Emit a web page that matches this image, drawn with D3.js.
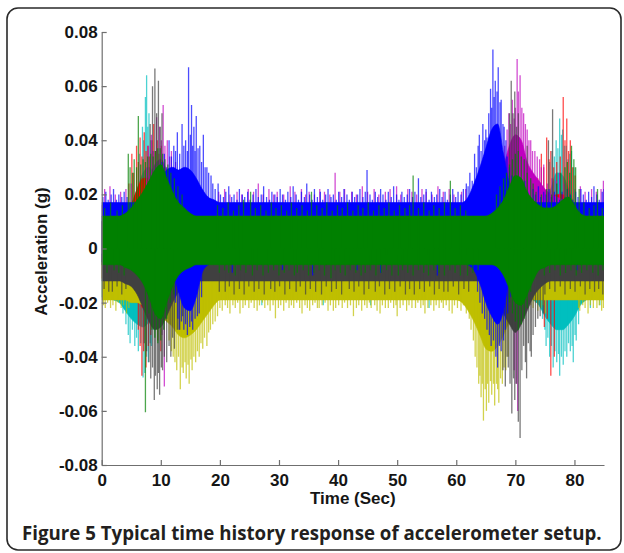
<!DOCTYPE html>
<html>
<head>
<meta charset="utf-8">
<script src="https://cdn.jsdelivr.net/npm/d3@7"></script>
<style>
  html, body { margin: 0; padding: 0; background: #fff; }
  svg { display: block; }
</style>
</head>
<body>
<svg id="chart" width="624" height="553"></svg>
<script>
// Sampling instants (s) for the dense-core envelopes
const time = [0,1,2,3,4,5,6,7,8,9,10,11,12,13,14,15,16,17,18,19,20,21,22,23,24,25,26,27,28,29,
  30,31,32,33,34,35,36,37,38,39,40,41,42,43,44,45,46,47,48,49,50,51,52,53,54,55,56,57,58,59,
  60,61,62,63,64,65,66,67,68,69,70,71,72,73,74,75,76,77,78,79,80,81,82,83,84,85];

// Upper / lower envelopes (g) of the dense core of each channel
const greenHi = [.012,.012,.012,.012,.013,.015,.018,.021,.025,.029,
  .031,.026,.021,.017,.015,.013,.012,.012,.012,.012,
  .012,.012,.012,.012,.012,.012,.012,.012,.012,.012,
  .012,.012,.012,.012,.012,.012,.012,.012,.012,.012,
  .012,.012,.012,.012,.012,.012,.012,.012,.012,.012,
  .012,.012,.012,.012,.012,.012,.012,.012,.012,.012,
  .012,.012,.012,.012,.012,.012,.013,.015,.018,.023,
  .027,.026,.021,.018,.016,.015,.015,.016,.018,.019,
  .016,.013,.012,.012,.012,.012];
const greenLo = [-.006,-.006,-.006,-.006,-.007,-.008,-.010,-.013,-.018,-.024,
  -.026,-.020,-.014,-.010,-.008,-.007,-.006,-.006,-.006,-.006,
  -.006,-.006,-.006,-.006,-.006,-.006,-.006,-.006,-.006,-.006,
  -.006,-.006,-.006,-.006,-.006,-.006,-.006,-.006,-.006,-.006,
  -.006,-.006,-.006,-.006,-.006,-.006,-.006,-.006,-.006,-.006,
  -.006,-.006,-.006,-.006,-.006,-.006,-.006,-.006,-.006,-.006,
  -.006,-.006,-.006,-.006,-.006,-.006,-.006,-.007,-.010,-.015,
  -.020,-.021,-.017,-.012,-.008,-.007,-.006,-.006,-.006,-.006,
  -.006,-.006,-.006,-.006,-.006,-.006];

const blueHi = [.017,.017,.017,.017,.017,.017,.017,.018,.019,.022,
  .026,.029,.030,.029,.030,.029,.026,.022,.019,.018,
  .017,.017,.017,.017,.017,.017,.017,.017,.017,.017,
  .017,.017,.017,.017,.017,.017,.017,.017,.017,.017,
  .017,.017,.017,.017,.017,.017,.017,.017,.017,.017,
  .017,.017,.017,.017,.017,.017,.017,.017,.017,.017,
  .017,.017,.019,.024,.030,.037,.044,.046,.035,.024,
  .019,.017,.017,.017,.017,.017,.017,.017,.017,.017,
  .017,.017,.017,.017,.017,.017];
const blueLo = [-.005,-.005,-.005,-.005,-.005,-.005,-.005,-.005,-.005,-.005,
  -.005,-.005,-.008,-.016,-.022,-.023,-.018,-.009,-.006,-.005,
  -.005,-.005,-.005,-.005,-.005,-.005,-.005,-.005,-.005,-.005,
  -.005,-.005,-.005,-.005,-.005,-.005,-.005,-.005,-.005,-.005,
  -.005,-.005,-.005,-.005,-.005,-.005,-.005,-.005,-.005,-.005,
  -.005,-.005,-.005,-.005,-.005,-.005,-.005,-.005,-.005,-.005,
  -.005,-.005,-.006,-.008,-.013,-.020,-.025,-.028,-.023,-.011,
  -.006,-.005,-.005,-.005,-.005,-.005,-.005,-.005,-.005,-.005,
  -.005,-.005,-.005,-.005,-.005,-.005];

const grayHi = [-.002,-.002,-.002,-.002,-.002,-.002,-.002,-.002,-.002,-.002,
  -.002,-.002,-.002,-.002,-.002,-.002,-.002,-.002,-.002,-.002,
  -.002,-.002,-.002,-.002,-.002,-.002,-.002,-.002,-.002,-.002,
  -.002,-.002,-.002,-.002,-.002,-.002,-.002,-.002,-.002,-.002,
  -.002,-.002,-.002,-.002,-.002,-.002,-.002,-.002,-.002,-.002,
  -.002,-.002,-.002,-.002,-.002,-.002,-.002,-.002,-.002,-.002,
  -.002,-.002,-.002,-.002,-.002,-.002,-.002,-.002,-.002,-.002,
  -.002,-.002,-.002,-.002,-.002,-.002,-.002,-.002,-.002,-.002,
  -.002,-.002,-.002,-.002,-.002,-.002];
const grayLo = [-.012,-.012,-.012,-.012,-.013,-.014,-.017,-.022,-.027,-.030,
  -.029,-.025,-.020,-.016,-.013,-.012,-.012,-.012,-.012,-.012,
  -.012,-.012,-.012,-.012,-.012,-.012,-.012,-.012,-.012,-.012,
  -.012,-.012,-.012,-.012,-.012,-.012,-.012,-.012,-.012,-.012,
  -.012,-.012,-.012,-.012,-.012,-.012,-.012,-.012,-.012,-.012,
  -.012,-.012,-.012,-.012,-.012,-.012,-.012,-.012,-.012,-.012,
  -.012,-.012,-.012,-.012,-.012,-.013,-.015,-.019,-.024,-.028,
  -.031,-.028,-.023,-.018,-.015,-.013,-.012,-.012,-.012,-.012,
  -.012,-.012,-.012,-.012,-.012,-.012];

const yellowHi = [-.004,-.004,-.004,-.004,-.004,-.004,-.004,-.004,-.004,-.004,
  -.004,-.004,-.004,-.004,-.004,-.004,-.004,-.004,-.004,-.004,
  -.004,-.004,-.004,-.004,-.004,-.004,-.004,-.004,-.004,-.004,
  -.004,-.004,-.004,-.004,-.004,-.004,-.004,-.004,-.004,-.004,
  -.004,-.004,-.004,-.004,-.004,-.004,-.004,-.004,-.004,-.004,
  -.004,-.004,-.004,-.004,-.004,-.004,-.004,-.004,-.004,-.004,
  -.004,-.004,-.004,-.004,-.004,-.004,-.004,-.004,-.004,-.004,
  -.004,-.004,-.004,-.004,-.004,-.004,-.004,-.004,-.004,-.004,
  -.004,-.004,-.004,-.004,-.004,-.004];
const yellowLo = [-.019,-.019,-.019,-.019,-.019,-.020,-.020,-.021,-.022,-.024,
  -.025,-.027,-.029,-.032,-.033,-.032,-.030,-.027,-.024,-.021,
  -.019,-.019,-.019,-.019,-.019,-.019,-.019,-.019,-.019,-.019,
  -.019,-.019,-.019,-.019,-.019,-.019,-.019,-.019,-.019,-.019,
  -.019,-.019,-.019,-.019,-.019,-.019,-.019,-.019,-.019,-.019,
  -.019,-.019,-.019,-.019,-.019,-.019,-.019,-.019,-.019,-.019,
  -.019,-.020,-.023,-.027,-.032,-.037,-.038,-.036,-.032,-.027,
  -.024,-.021,-.019,-.019,-.019,-.019,-.019,-.019,-.019,-.019,
  -.019,-.019,-.019,-.019,-.019,-.019];

const magentaHi = [.016,.016,.016,.016,.016,.016,.017,.020,.026,.031,
  .033,.029,.025,.021,.018,.016,.016,.016,.016,.016,
  .016,.016,.016,.016,.016,.016,.016,.016,.016,.016,
  .016,.016,.016,.016,.016,.016,.016,.016,.016,.016,
  .016,.016,.016,.016,.016,.016,.016,.016,.016,.016,
  .016,.016,.016,.016,.016,.016,.016,.016,.016,.016,
  .016,.016,.016,.016,.016,.016,.017,.021,.030,.038,
  .042,.040,.032,.028,.025,.022,.020,.019,.018,.017,
  .016,.016,.016,.016,.016,.016];
const magentaLo = [-.006,-.006,-.006,-.006,-.006,-.006,-.006,-.008,-.010,-.014,
  -.020,-.016,-.010,-.006,-.006,-.006,-.006,-.006,-.006,-.006,
  -.006,-.006,-.006,-.006,-.006,-.006,-.006,-.006,-.006,-.006,
  -.006,-.006,-.006,-.006,-.006,-.006,-.006,-.006,-.006,-.006,
  -.006,-.006,-.006,-.006,-.006,-.006,-.006,-.006,-.006,-.006,
  -.006,-.006,-.006,-.006,-.006,-.006,-.006,-.006,-.006,-.006,
  -.006,-.006,-.006,-.006,-.006,-.006,-.006,-.008,-.012,-.018,
  -.024,-.020,-.012,-.008,-.006,-.006,-.006,-.006,-.006,-.006,
  -.006,-.006,-.006,-.006,-.006,-.006];

const redHi = [.010,.010,.010,.010,.012,.016,.022,.026,.026,.024,
  .018,.013,.010,.010,.010,.010,.010,.010,.010,.010,
  .010,.010,.010,.010,.010,.010,.010,.010,.010,.010,
  .010,.010,.010,.010,.010,.010,.010,.010,.010,.010,
  .010,.010,.010,.010,.010,.010,.010,.010,.010,.010,
  .010,.010,.010,.010,.010,.010,.010,.010,.010,.010,
  .010,.010,.010,.010,.010,.010,.010,.010,.010,.010,
  .010,.010,.010,.010,.011,.014,.018,.020,.020,.016,
  .012,.010,.010,.010,.010,.010];
const redLo = [-.011,-.011,-.011,-.011,-.011,-.012,-.016,-.022,-.022,-.022,
  -.020,-.015,-.011,-.011,-.011,-.011,-.011,-.011,-.011,-.011,
  -.011,-.011,-.011,-.011,-.011,-.011,-.011,-.011,-.011,-.011,
  -.011,-.011,-.011,-.011,-.011,-.011,-.011,-.011,-.011,-.011,
  -.011,-.011,-.011,-.011,-.011,-.011,-.011,-.011,-.011,-.011,
  -.011,-.011,-.011,-.011,-.011,-.011,-.011,-.011,-.011,-.011,
  -.011,-.011,-.011,-.011,-.011,-.011,-.011,-.011,-.011,-.011,
  -.011,-.011,-.011,-.011,-.012,-.013,-.014,-.013,-.012,-.011,
  -.011,-.011,-.011,-.011,-.011,-.011];

const cyanHi = [.010,.010,.010,.010,.011,.016,.022,.028,.030,.026,
  .018,.012,.010,.010,.010,.010,.010,.010,.010,.010,
  .010,.010,.010,.010,.010,.010,.010,.010,.010,.010,
  .010,.010,.010,.010,.010,.010,.010,.010,.010,.010,
  .010,.010,.010,.010,.010,.010,.010,.010,.010,.010,
  .010,.010,.010,.010,.010,.010,.010,.010,.010,.010,
  .010,.010,.010,.010,.010,.010,.010,.010,.010,.010,
  .010,.010,.010,.010,.012,.016,.022,.028,.027,.022,
  .016,.012,.010,.010,.010,.010];
const cyanLo = [-.018,-.018,-.019,-.020,-.023,-.026,-.028,-.029,-.027,-.022,
  -.019,-.018,-.018,-.018,-.018,-.018,-.018,-.018,-.018,-.018,
  -.018,-.018,-.018,-.018,-.018,-.018,-.018,-.018,-.018,-.018,
  -.018,-.018,-.018,-.018,-.018,-.018,-.018,-.018,-.018,-.018,
  -.018,-.018,-.018,-.018,-.018,-.018,-.018,-.018,-.018,-.018,
  -.018,-.018,-.018,-.018,-.018,-.018,-.018,-.018,-.018,-.018,
  -.018,-.018,-.018,-.018,-.018,-.018,-.018,-.018,-.018,-.018,
  -.018,-.018,-.018,-.019,-.021,-.025,-.028,-.030,-.030,-.028,
  -.025,-.021,-.019,-.018,-.018,-.018];

// Individual excursions [time (s), acceleration (g)] reaching beyond each core
const cyanPeaks = [[6.4,.035],[6.9,.045],[7.1,.04],[7.4,.056],[7.6,.064],[7.8,.045],[8.0,.05],[8.3,.04],[8.7,.036],
  [3.6,-.024],[4.1,-.028],[4.5,-.032],[4.8,-.035],[5.2,-.03],[5.6,-.036],[5.9,-.033],[6.2,-.038],[6.6,-.035],
  [7.0,-.0477],[7.3,-.046],[7.6,-.04],[7.9,-.042],[8.2,-.035],[8.4,-.036],[8.8,-.03],
  [75.8,.032],[76.2,.036],[76.6,.034],[76.9,.04],[77.2,.037],[77.5,.048],[77.8,.042],[78.0,.044],[78.3,.038],
  [78.6,.038],[78.9,.033],[79.2,.035],[79.5,.036],[79.9,.03],
  [74.6,-.026],[75.0,-.03],[75.2,-.036],[75.5,-.033],[75.8,-.04],[76.1,-.036],[76.4,-.044],[76.7,-.038],
  [77.0,-.042],[77.3,-.039],[77.5,-.047],[77.8,-.04],[78.1,-.043],[78.4,-.038],[78.7,-.04],[79.0,-.035],
  [79.3,-.038],[79.6,-.036],[79.8,-.042],[80.1,-.032],[80.3,-.034],[80.7,-.028],
  [27.1,-.021],[37.5,-.021],[45.5,-.021],[55.4,-.022],[82.7,-.022],[84.3,-.021]];
const redPeaks = [[4.6,.024],[5.1,.035],[5.4,.028],[5.9,.038],[6.2,.032],[6.5,.041],[6.8,.034],[7.2,.043],
  [7.5,.036],[7.8,.038],[8.1,.034],[8.5,.04],[8.8,.046],[9.1,.036],[9.4,.04],[9.7,.035],[10.1,.038],[10.5,.03],
  [6.2,-.03],[6.5,-.036],[6.8,-.047],[7.1,-.038],[7.5,-.044],[7.9,-.036],[8.3,-.032],[9.5,-.034],[10.0,-.038],
  [73.8,.026],[74.4,.035],[74.8,.03],[75.3,.041],[75.7,.033],[76.0,.036],[76.5,.03],[77.0,.032],[77.6,.034],
  [78.1,.056],[78.4,.04],[78.7,.048],[79.0,.036],[79.3,.04],[79.7,.03],[80.1,.027],
  [74.9,-.029],[75.4,-.026],[76.0,-.047],[76.6,-.04]];
const magentaPeaks = [[7.6,.03],[7.9,.038],[8.4,.042],[8.8,.036],[9.3,.0485],[9.8,.045],[10.1,.04],[10.4,.053],
  [10.7,.038],[11.1,.04],[11.5,.034],[11.8,.036],[12.2,.03],[12.5,.032],[13.0,.028],[13.5,.027],
  [10.2,-.032],[10.6,-.051],
  [67.8,.03],[68.2,.038],[68.6,.044],[68.9,.05],[69.2,.046],[69.5,.055],[69.8,.048],[70.0,.052],[70.3,.07],
  [70.5,.058],[70.8,.064],[71.1,.052],[71.4,.05],[71.7,.046],[72.0,.044],[72.3,.04],[72.6,.04],[72.9,.036],
  [73.3,.036],[73.7,.034],[74.1,.033],[74.4,.03],[74.8,.031],
  [69.8,-.045],[70.1,-.05],[70.4,-.06],
  [0.5,.022],[1.4,.023],[2.3,.02],[3.2,.021],[4.1,.022],[5.0,.024],[19.8,.021],[20.8,.022],[21.7,.02],
  [22.9,.021],[23.7,.02],[24.8,.022],[25.7,.021],[26.5,.024],[27.3,.02],[28.3,.022],[29.1,.02],[29.7,.021],
  [30.8,.02],[31.9,.023],[32.7,.021],[33.8,.022],[34.5,.02],[35.1,.021],[36.0,.02],[36.9,.022],[37.7,.021],
  [38.6,.02],[39.5,.028],[40.3,.021],[41.1,.022],[42.3,.021],[43.1,.02],[44.1,.023],[45.0,.021],[46.1,.022],
  [46.9,.02],[48.0,.021],[48.8,.022],[49.9,.023],[50.6,.02],[51.8,.022],[52.5,.021],[53.3,.02],[54.2,.022],
  [54.9,.021],[55.9,.02],[56.9,.023],[57.8,.021],[58.8,.022],[59.6,.02],[60.9,.021],[61.6,.022],[75.4,.024],
  [76.2,.026],[76.9,.025],[77.5,.028],[78.3,.024],[79.2,.025],[80.1,.022],[81.0,.023],[81.8,.021],[82.9,.022],
  [83.7,.021],[84.5,.022],[84.9,.025]];
const yellowPeaks = [[11.4,-.034],[11.8,-.038],[12.1,-.04],[12.4,-.042],[12.7,-.045],[13.0,-.04],[13.3,-.052],
  [13.6,-.044],[13.8,-.046],[14.1,-.042],[14.3,-.048],[14.6,-.043],[14.8,-.05],[15.1,-.041],[15.3,-.045],
  [15.6,-.04],[15.9,-.042],[16.2,-.038],[16.5,-.04],[16.8,-.035],[17.1,-.037],[17.4,-.033],[17.8,-.036],
  [18.1,-.031],[18.4,-.03],[18.8,-.028],[19.2,-.027],
  [62.2,-.026],[62.5,-.03],[62.9,-.034],[63.2,-.04],[63.5,-.044],[63.8,-.05],[64.0,-.047],[64.2,-.055],
  [64.4,-.05],[64.6,-.0636],[64.9,-.052],[65.1,-.06],[65.3,-.05],[65.5,-.057],[65.8,-.049],[66.0,-.054],
  [66.3,-.05],[66.5,-.058],[66.8,-.05],[67.0,-.052],[67.2,-.057],[67.5,-.048],[67.8,-.05],[68.1,-.044],
  [68.4,-.045],[68.8,-.04],
  [0.3,-.021],[0.6,-.022],[1.0,-.02],[1.5,-.022],[1.9,-.021],[2.4,-.023],[2.8,-.02],[3.3,-.022],[3.7,-.021],
  [4.2,-.024],[4.6,-.022],[19.6,-.025],[20.0,-.022],[20.4,-.023],[20.9,-.021],[21.3,-.022],[21.7,-.024],
  [22.2,-.021],[22.6,-.022],[23.0,-.02],[23.4,-.024],[23.9,-.022],[24.3,-.021],[24.9,-.022],[25.3,-.02],
  [25.8,-.022],[26.3,-.023],[26.7,-.021],[27.2,-.02],[27.6,-.022],[28.1,-.021],[28.5,-.023],[29.0,-.021],
  [29.4,-.0258],[29.9,-.022],[30.3,-.021],[30.8,-.023],[31.2,-.02],[31.7,-.022],[32.1,-.021],[32.5,-.022],
  [33.0,-.02],[33.5,-.022],[33.9,-.024],[34.4,-.021],[34.8,-.022],[35.2,-.023],[35.7,-.021],[36.1,-.02],
  [36.5,-.022],[36.8,-.022],[37.3,-.021],[37.8,-.02],[38.3,-.023],[38.7,-.021],[39.2,-.023],[39.6,-.022],
  [40.1,-.021],[40.7,-.022],[41.1,-.02],[41.6,-.022],[42.1,-.021],[42.6,-.025],[43.1,-.022],[43.5,-.021],
  [44.0,-.023],[44.5,-.021],[44.9,-.022],[45.3,-.02],[45.6,-.022],[46.2,-.021],[46.6,-.023],[47.1,-.024],
  [47.5,-.021],[48.0,-.022],[48.5,-.022],[48.9,-.02],[49.4,-.022],[49.8,-.021],[50.0,-.025],[50.5,-.022],
  [51.0,-.021],[51.6,-.023],[52.0,-.021],[52.5,-.022],[53.1,-.022],[53.5,-.02],[54.0,-.022],[54.4,-.021],
  [54.7,-.024],[55.2,-.022],[55.7,-.021],[56.2,-.023],[56.6,-.021],[57.1,-.022],[57.5,-.02],[57.8,-.022],
  [58.3,-.021],[58.8,-.023],[59.3,-.024],[59.7,-.021],[60.2,-.022],[60.8,-.023],[61.2,-.021],[61.7,-.024],
  [72.2,-.022],[72.6,-.021],[73.0,-.022],[73.4,-.02],[73.8,-.023],[74.3,-.022],[74.7,-.021],[75.1,-.024],
  [80.7,-.022],[80.9,-.023],[81.4,-.021],[81.8,-.022],[82.3,-.024],[82.7,-.021],[83.2,-.022],[83.8,-.022],
  [84.2,-.021],[84.6,-.023],[84.9,-.022]];
const grayPeaks = [[8.2,.046],[8.6,.06],[9.0,.0665],[9.3,.05],[9.6,.062],[9.9,.045],[10.2,.05],
  [7.2,-.035],[7.6,-.038],[8.0,-.042],[8.3,-.048],[8.6,-.044],[8.9,-.056],[9.1,-.047],[9.4,-.052],[9.6,-.046],
  [9.8,-.054],[10.1,-.044],[10.3,-.045],[10.6,-.04],[11.0,-.042],[11.4,-.036],[11.7,-.04],[12.0,-.033],
  [12.3,-.037],[12.8,-.03],[13.2,-.03],[13.7,-.025],[14.3,-.022],
  [69.0,.05],[69.3,.062],[69.6,.05],[69.9,.058],[70.2,.045],[70.5,.05],[72.0,.038],[75.6,.04],[76.3,.0515],
  [67.9,-.045],[68.3,-.051],[68.6,-.04],[68.8,-.044],[69.1,-.05],[69.4,-.061],[69.7,-.048],[69.9,-.056],
  [70.2,-.05],[70.5,-.064],[70.8,-.07],[71.1,-.045],[71.4,-.036],[71.7,-.042],[71.9,-.048],[72.2,-.035],
  [72.5,-.038],[72.7,-.04],[73.0,-.032],[73.4,-.029],[73.8,-.026],[74.2,-.025],[74.7,-.024],
  [0.4,-.015],[1.2,-.016],[1.8,-.016],[2.6,-.014],[3.4,-.017],[4.1,-.015],[19.9,-.016],[20.9,-.016],
  [21.6,-.014],[22.4,-.017],[23.3,-.015],[24.1,-.017],[24.9,-.014],[25.8,-.016],[26.6,-.015],[27.5,-.017],
  [28.6,-.015],[29.3,-.016],[30.1,-.014],[31.0,-.017],[31.8,-.015],[32.9,-.016],[33.6,-.014],[34.5,-.017],
  [35.3,-.015],[36.2,-.016],[37.2,-.017],[38.0,-.014],[38.9,-.016],[39.7,-.015],[40.6,-.017],[41.9,-.015],
  [42.7,-.016],[43.5,-.014],[44.4,-.017],[45.2,-.015],[46.3,-.016],[47.0,-.014],[47.9,-.017],[48.7,-.015],
  [49.6,-.016],[50.5,-.014],[51.4,-.017],[52.1,-.015],[52.9,-.017],[53.8,-.015],[54.6,-.016],[55.5,-.014],
  [56.3,-.017],[57.1,-.015],[57.9,-.016],[58.6,-.016],[59.5,-.014],[60.4,-.017],[61.3,-.015],[62.1,-.016],
  [75.0,-.017],[75.8,-.015],[76.7,-.016],[77.6,-.014],[78.4,-.017],[79.3,-.015],[80.1,-.016],[81.0,-.014],
  [81.8,-.017],[82.6,-.015],[83.4,-.016],[84.1,-.015],[84.8,-.017]];
const bluePeaks = [[9.6,.028],[10.2,.032],[10.6,.035],[11.0,.03],[11.4,.04],[11.8,.034],[12.2,.038],[12.5,.036],
  [12.8,.043],[13.2,.035],[13.6,.046],[13.9,.038],[14.2,.04],[14.5,.036],[14.7,.067],[15.0,.042],[15.2,.053],
  [15.4,.038],[15.6,.045],[15.8,.036],[16.0,.049],[16.3,.037],[16.6,.038],[16.9,.032],[17.2,.042],[17.5,.03],
  [17.8,.03],[18.1,.028],[18.5,.027],[18.8,.024],
  [12.5,-.02],[12.9,-.026],[13.1,-.03],[13.5,-.027],[13.9,-.03],[14.2,-.028],[14.5,-.032],[14.9,-.029],
  [15.2,-.027],[15.4,-.03],[15.8,-.026],[16.2,-.025],[16.5,-.024],[16.9,-.018],
  [62.0,.023],[62.3,.028],[62.7,.025],[63.1,.035],[63.4,.03],[63.7,.038],[63.9,.042],[64.2,.036],[64.5,.046],
  [64.8,.04],[65.0,.044],[65.2,.041],[65.5,.05],[65.8,.059],[66.0,.052],[66.2,.0735],[66.4,.056],[66.6,.062],
  [66.9,.058],[67.1,.067],[67.4,.054],[67.6,.055],[67.9,.046],[68.1,.045],[68.4,.04],[68.6,.034],[69.0,.03],
  [69.4,.027],
  [63.6,-.016],[64.0,-.02],[64.4,-.024],[64.8,-.026],[65.2,-.03],[65.6,-.032],[65.9,-.036],[66.3,-.034],
  [66.7,-.04],[67.0,-.044],[67.3,-.036],[67.6,-.038],[68.0,-.034],[68.3,-.03],[68.7,-.024],[69.1,-.018],
  [0.2,.019],[0.7,.021],[1.1,.018],[1.6,.02],[2.0,.022],[2.5,.018],[2.9,.02],[3.4,.019],[3.8,.021],[4.3,.019],
  [19.2,.022],[19.7,.024],[20.1,.02],[20.6,.019],[21.0,.021],[21.5,.023],[22.0,.019],[22.4,.02],[22.9,.018],
  [23.3,.022],[23.8,.02],[24.2,.019],[24.7,.021],[25.1,.018],[25.6,.02],[26.1,.022],[26.5,.019],[27.0,.02],
  [27.4,.023],[27.9,.019],[28.4,.018],[28.8,.021],[29.3,.02],[29.7,.019],[30.2,.022],[30.6,.02],[31.1,.018],
  [31.5,.021],[32.0,.019],[32.4,.023],[32.9,.02],[33.3,.018],[33.8,.021],[34.3,.019],[34.7,.024],[35.2,.02],
  [35.6,.018],[36.0,.022],[36.5,.019],[37.0,.021],[37.4,.018],[37.9,.02],[38.3,.022],[38.8,.019],[39.2,.02],
  [39.7,.018],[40.1,.021],[40.6,.019],[41.0,.022],[41.5,.02],[41.9,.018],[42.4,.021],[42.8,.019],[43.3,.02],
  [43.7,.022],[44.2,.019],[44.6,.021],[44.9,.029],[45.4,.02],[45.8,.018],[46.3,.021],[46.7,.019],[47.2,.022],
  [47.6,.02],[48.1,.018],[48.5,.021],[49.0,.019],[49.4,.023],[49.9,.02],[50.3,.018],[50.8,.021],[51.2,.019],
  [51.7,.02],[52.1,.022],[52.6,.019],[53.0,.021],[53.6,.026],[54.0,.019],[54.5,.02],[54.9,.022],[55.4,.018],
  [55.8,.021],[56.3,.019],[56.7,.02],[57.2,.022],[57.6,.019],[58.1,.021],[58.5,.018],[59.0,.02],[59.4,.022],
  [59.9,.019],[60.3,.021],[60.8,.02],[61.2,.022],[61.7,.024],
  [69.8,.025],[70.3,.022],[70.7,.02],[71.2,.023],[71.6,.025],[72.1,.021],[72.5,.019],[73.0,.022],[73.4,.02],
  [73.9,.023],[74.3,.019],[74.8,.021],[75.2,.02],[75.7,.022],[76.1,.019],[76.6,.021],[77.0,.02],[77.5,.018],
  [77.9,.021],[78.4,.019],[78.8,.022],[79.3,.02],[79.7,.018],[80.2,.021],[80.6,.019],[81.1,.022],[81.5,.02],
  [82.0,.018],[82.4,.021],[82.9,.019],[83.3,.023],[83.8,.02],[84.2,.018],[84.7,.021],[85.0,.022],
  [22.1,-.009],[30.6,-.008],[35.7,-.01],[43.2,-.008],[47.2,-.009],[56.8,-.01],[73.0,-.009],[80.4,-.008]];
const greenPeaks = [[4.5,.035],[4.8,.03],[5.2,.028],[5.5,.033],[5.9,.03],[6.2,.049],[6.6,.031],[7.0,.033],
  [7.4,.032],[7.8,.034],[8.3,.035],[8.7,.034],[9.1,.036],[9.5,.037],[9.9,.037],[10.3,.035],[10.7,.033],
  [11.2,.031],[11.7,.028],[12.3,.026],[12.9,.023],[13.6,.02],
  [66.8,.02],[67.4,.023],[68.0,.026],[68.5,.028],[69.0,.031],[69.5,.033],[70.0,.035],[70.5,.036],[71.0,.034],
  [71.5,.033],[72.0,.028],[72.6,.026],[73.0,.024],
  [0.5,.015],[1.5,.017],[2.6,.014],[3.5,.016],[19.6,.016],[20.5,.015],[21.4,.017],[22.3,.014],[23.2,.016],
  [24.0,.018],[25.2,.021],[26.0,.015],[26.9,.016],[27.8,.014],[28.7,.017],[29.5,.015],[30.4,.016],[31.3,.014],
  [32.1,.017],[33.0,.015],[33.9,.016],[34.8,.014],[35.5,.021],[36.4,.016],[37.3,.015],[38.1,.017],[39.0,.014],
  [39.9,.016],[40.7,.015],[41.6,.017],[42.5,.014],[43.4,.016],[44.2,.015],[45.1,.017],[46.0,.014],[46.9,.016],
  [47.8,.015],[48.6,.017],[49.5,.014],[50.4,.016],[51.3,.015],[52.1,.016],[52.7,.027],[53.6,.015],[54.5,.017],
  [55.4,.014],[56.2,.016],[57.1,.015],[58.0,.017],[59.0,.025],[59.8,.015],[60.7,.016],[61.6,.014],[73.5,.021],
  [74.4,.02],[75.3,.022],[76.1,.02],[77.0,.024],[77.7,.028],[78.4,.03],[78.8,.032],[79.2,.028],[79.5,.038],
  [79.9,.033],[80.2,.03],[80.8,.022],[81.6,.017],[82.5,.015],[83.3,.016],[83.9,.022],[84.7,.015],
  [7.4,-.0605],[8.0,-.024],[8.5,-.03],[9.0,-.033],[9.5,-.035],[10.0,-.034],[10.5,-.03],[11.0,-.026],[11.6,-.02],
  [12.2,-.017],[69.0,-.02],[69.5,-.024],[70.0,-.027],[70.5,-.03],[71.0,-.028],[71.5,-.026],[72.0,-.022],
  [72.6,-.016],
  [0.9,-.009],[2.1,-.008],[2.9,-.009],[3.8,-.01],[19.9,-.009],[20.8,-.008],[21.5,-.009],[22.6,-.01],[23.5,-.008],
  [24.4,-.009],[25.5,-.01],[26.3,-.008],[27.3,-.01],[28.2,-.009],[29.1,-.008],[30.0,-.01],[30.9,-.009],
  [31.7,-.008],[32.6,-.01],[33.1,-.009],[34.1,-.008],[35.0,-.01],[35.9,-.009],[36.8,-.008],[37.7,-.01],
  [38.8,-.011],[39.5,-.008],[40.4,-.009],[41.2,-.01],[42.1,-.008],[43.0,-.009],[43.9,-.01],[44.6,-.009],
  [45.5,-.008],[46.4,-.01],[47.3,-.009],[48.2,-.008],[49.1,-.01],[50.2,-.01],[50.9,-.008],[51.8,-.009],
  [52.7,-.01],[53.6,-.008],[54.5,-.009],[55.3,-.01],[56.2,-.008],[57.1,-.009],[58.0,-.01],[58.9,-.008],
  [59.8,-.009],[60.7,-.01],[61.9,-.01],[62.8,-.009],[63.7,-.008],[74.9,-.01],[75.8,-.009],[76.7,-.008],
  [77.6,-.01],[78.5,-.009],[79.4,-.008],[80.3,-.01],[81.2,-.009],[82.1,-.008],[83.1,-.009],[84.0,-.01],
  [84.8,-.008]];

// Axis ticks and text
const xTicks = [0, 10, 20, 30, 40, 50, 60, 70, 80];
const yTicks = [-0.08, -0.06, -0.04, -0.02, 0, 0.02, 0.04, 0.06, 0.08];
const yTickLabels = ["-0.08", "-0.06", "-0.04", "-0.02", "0", "0.02", "0.04", "0.06", "0.08"];
const xTitle = "Time (Sec)";
const yTitle = "Acceleration (g)";
const caption = "Figure 5 Typical time history response of accelerometer setup.";

// Channels in drawing order (last one ends up on top)
const channels = [
  { color: "#00bfbf", hi: cyanHi, lo: cyanLo, peaks: cyanPeaks },
  { color: "#ff0000", hi: redHi, lo: redLo, peaks: redPeaks },
  { color: "#bf00bf", hi: magentaHi, lo: magentaLo, peaks: magentaPeaks },
  { color: "#bfbf00", hi: yellowHi, lo: yellowLo, peaks: yellowPeaks },
  { color: "#404040", hi: grayHi, lo: grayLo, peaks: grayPeaks },
  { color: "#0000ff", hi: blueHi, lo: blueLo, peaks: bluePeaks },
  { color: "#008000", hi: greenHi, lo: greenLo, peaks: greenPeaks }
];

const svg = d3.select("#chart");
const labelFont = "'Liberation Sans', Arial, Helvetica, sans-serif";

// Rounded figure frame
svg.append("rect")
  .attr("x", 7).attr("y", 8).attr("width", 614).attr("height", 542)
  .attr("rx", 11).attr("ry", 11)
  .attr("fill", "#fff").attr("stroke", "#2a2a2a").attr("stroke-width", 1.6);

const x = d3.scaleLinear().domain([0, 85]).range([101.7, 604]);
const y = d3.scaleLinear().domain([-0.08, 0.08]).range([465, 32]);

svg.append("defs").append("clipPath").attr("id", "plotClip")
  .append("rect").attr("x", x(0)).attr("y", y(0.08))
  .attr("width", x(85) - x(0)).attr("height", y(-0.08) - y(0.08));

const plot = svg.append("g").attr("clip-path", "url(#plotClip)");

channels.forEach(ch => {
  const g = plot.append("g");
  const area = d3.area()
    .curve(d3.curveMonotoneX)
    .x((d, i) => x(time[i]))
    .y0((d, i) => y(ch.lo[i]))
    .y1(d => y(d));
  g.append("path")
    .attr("d", area(ch.hi))
    .attr("fill", ch.color)
    .attr("stroke", ch.color)
    .attr("stroke-width", 0.6);
  g.selectAll("line")
    .data(ch.peaks)
    .join("line")
    .attr("x1", d => x(d[0])).attr("x2", d => x(d[0]))
    .attr("y1", y(0)).attr("y2", d => y(d[1]))
    .attr("stroke", ch.color)
    .attr("stroke-width", 1.3)
    .attr("stroke-opacity", 0.7);
});

// Axes with inward ticks
const axisColor = "#6f6f6f";
const yAxis = d3.axisLeft(y)
  .tickValues(yTicks)
  .tickFormat((d, i) => yTickLabels[i])
  .tickSizeInner(-5).tickSizeOuter(0).tickPadding(4);
const xAxis = d3.axisBottom(x)
  .tickValues(xTicks)
  .tickFormat(d3.format("d"))
  .tickSizeInner(-5).tickSizeOuter(0).tickPadding(9);

const gy = svg.append("g").attr("transform", `translate(${x(0)},0)`).call(yAxis);
const gx = svg.append("g").attr("transform", `translate(0,${y(-0.08)})`).call(xAxis);
[gx, gy].forEach(g => {
  g.select(".domain").attr("stroke", axisColor).attr("stroke-width", 1.2);
  g.selectAll(".tick line").attr("stroke", axisColor).attr("stroke-width", 1.2);
  g.selectAll(".tick text")
    .attr("fill", "#151515")
    .style("font-family", labelFont)
    .style("font-weight", "bold")
    .style("font-size", "17px");
});

// Axis titles
svg.append("text")
  .attr("x", (x(0) + x(85)) / 2).attr("y", 504)
  .attr("text-anchor", "middle")
  .attr("fill", "#151515")
  .style("font-family", labelFont).style("font-weight", "bold").style("font-size", "17px")
  .text(xTitle);
svg.append("text")
  .attr("transform", `translate(46.5,${(y(0.08) + y(-0.08)) / 2 + 3}) rotate(-90)`)
  .attr("text-anchor", "middle")
  .attr("fill", "#151515")
  .style("font-family", labelFont).style("font-weight", "bold").style("font-size", "17px")
  .text(yTitle);

// Caption, sized to span the frame
const cap = svg.append("text")
  .attr("x", 22).attr("y", 540)
  .attr("fill", "#231f20")
  .style("font-family", "'Open Sans', 'Noto Sans', sans-serif")
  .style("font-weight", "bold")
  .style("font-size", "18px")
  .text(caption);
const capLen = cap.node().getComputedTextLength();
cap.style("font-size", (18 * 580 / capLen).toFixed(2) + "px");
</script>
</body>
</html>
